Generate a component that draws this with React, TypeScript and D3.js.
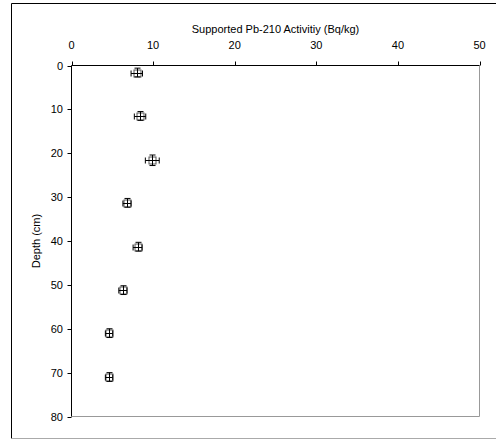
import React from 'react';
import * as d3 from 'd3';

const depths = [1.6, 11.5, 21.6, 31.3, 41.3, 51.2, 61, 71];
const activity = [8.0, 8.4, 9.9, 6.8, 8.1, 6.3, 4.6, 4.6];
const activityErr = [0.7, 0.7, 0.85, 0.5, 0.55, 0.5, 0.45, 0.45];
const depthErr = [1, 1, 1.2, 1, 1, 1, 1, 1];
const xTicks = [0, 10, 20, 30, 40, 50];
const yTicks = [0, 10, 20, 30, 40, 50, 60, 70, 80];

const width = 496;
const height = 441;
const margin = { left: 71.5, right: 479.5, top: 65.5, bottom: 416.5 };
const font = '"Liberation Sans", Arial, sans-serif';

const App: React.FC = () => {
  const xScale = d3.scaleLinear().domain([0, 50]).range([margin.left, margin.right]);
  const yScale = d3.scaleLinear().domain([0, 80]).range([margin.top, margin.bottom]);
  const half = 3.5;

  return (
    <svg
      width={width}
      height={height}
      style={{ position: 'absolute', left: 0, top: 0 }}
      fontFamily={font}
    >
      <rect x={0} y={0} width={width} height={height} fill="#fff" />
      {/* chart border */}
      <line x1={11.5} x2={width} y1={3.5} y2={3.5} stroke="#000" />
      <line x1={11.5} x2={11.5} y1={3.5} y2={438.5} stroke="#000" />
      <line x1={11.5} x2={width} y1={438.5} y2={438.5} stroke="#aaa" />

      {/* plot frame */}
      <line x1={margin.right} x2={margin.right} y1={margin.top} y2={margin.bottom} stroke="#999" />
      <line x1={margin.left} x2={margin.right} y1={margin.bottom} y2={margin.bottom} stroke="#999" />
      <line x1={margin.left} x2={margin.right} y1={margin.top} y2={margin.top} stroke="#000" />
      <line x1={margin.left} x2={margin.left} y1={margin.top} y2={margin.bottom} stroke="#000" />

      {/* top axis */}
      {xTicks.map(t => (
        <g key={`x${t}`}>
          <line x1={Math.round(xScale(t)) + 0.5} x2={Math.round(xScale(t)) + 0.5} y1={margin.top} y2={margin.top - 4} stroke="#000" />
          <text x={xScale(t)} y={49} fontSize={11} textAnchor="middle" fill="#000">{t}</text>
        </g>
      ))}
      <text x={(margin.left + margin.right) / 2} y={33} fontSize={11} textAnchor="middle" fill="#000">
        Supported Pb-210 Activitiy (Bq/kg)
      </text>

      {/* left axis */}
      {yTicks.map(t => (
        <g key={`y${t}`}>
          <line x1={margin.left - 4} x2={margin.left} y1={Math.round(yScale(t)) + 0.5} y2={Math.round(yScale(t)) + 0.5} stroke="#000" />
          <text x={63} y={yScale(t) + 4} fontSize={11} textAnchor="end" fill="#000">{t}</text>
        </g>
      ))}
      <text
        transform={`translate(40,${(margin.top + margin.bottom) / 2}) rotate(-90)`}
        fontSize={11}
        textAnchor="middle"
        fill="#000"
      >
        Depth (cm)
      </text>

      {/* points with error bars */}
      {depths.map((d, i) => {
        const cx = Math.round(xScale(activity[i])) + 0.5;
        const cy = Math.round(yScale(d)) + 0.5;
        const x0 = xScale(activity[i] - activityErr[i]);
        const x1 = xScale(activity[i] + activityErr[i]);
        const y0 = yScale(d - depthErr[i]);
        const y1 = yScale(d + depthErr[i]);
        return (
          <g key={`p${i}`}>
            <rect x={cx - half} y={cy - half} width={half * 2} height={half * 2} fill="#fff" stroke="#555" />
            <line x1={x0} x2={x1} y1={cy} y2={cy} stroke="#000" />
            <line x1={x0} x2={x0} y1={cy - 3} y2={cy + 3} stroke="#000" />
            <line x1={x1} x2={x1} y1={cy - 3} y2={cy + 3} stroke="#000" />
            <line x1={cx} x2={cx} y1={y0} y2={y1} stroke="#000" />
            <line x1={cx - 3} x2={cx + 3} y1={y0} y2={y0} stroke="#000" />
            <line x1={cx - 3} x2={cx + 3} y1={y1} y2={y1} stroke="#000" />
          </g>
        );
      })}
    </svg>
  );
};

export default App;
